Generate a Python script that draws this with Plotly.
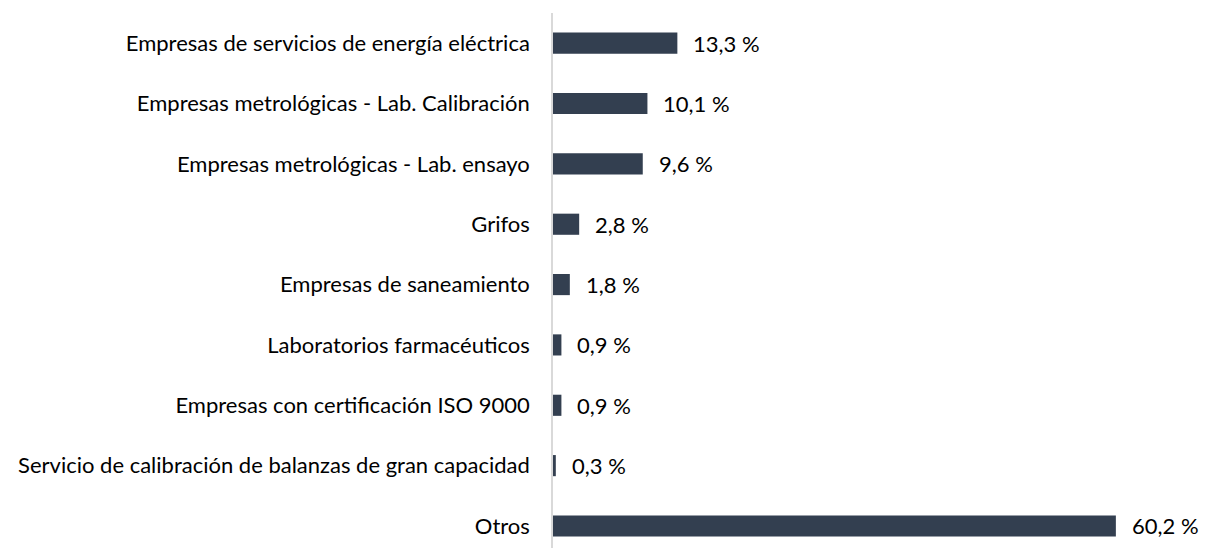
import plotly.graph_objects as go

categories = [
    "Empresas de servicios de energía eléctrica",
    "Empresas metrológicas - Lab. Calibración",
    "Empresas metrológicas - Lab. ensayo",
    "Grifos",
    "Empresas de saneamiento",
    "Laboratorios farmacéuticos",
    "Empresas con certificación ISO 9000",
    "Servicio de calibración de balanzas de gran capacidad",
    "Otros",
]
values = [13.3, 10.1, 9.6, 2.8, 1.8, 0.9, 0.9, 0.3, 60.2]
value_labels = ["13,3 %", "10,1 %", "9,6 %", "2,8 %", "1,8 %", "0,9 %", "0,9 %", "0,3 %", "60,2 %"]

FONT = "Lato"
FS = 22
W, H = 1205, 548
top, left, right = 13, 553, 30

fig = go.Figure()
fig.add_trace(go.Bar(
    x=values, y=categories, orientation="h",
    marker=dict(color="#333F50", line=dict(width=0)),
    width=0.35, hoverinfo="skip",
))
for c, v, t in zip(categories, values, value_labels):
    fig.add_annotation(x=v, y=c, text=t, showarrow=False, xanchor="left",
                       xshift=14, font=dict(family=FONT, size=FS, color="#000000"))

plot_h = H - top
span = plot_h / 60.35
fig.update_layout(
    width=W, height=H,
    margin=dict(l=left, r=right, t=top, b=0, autoexpand=False),
    plot_bgcolor="white", paper_bgcolor="white",
    showlegend=False,
    font=dict(family=FONT, size=FS, color="#000000"),
    xaxis=dict(range=[0, (W - left - right) / 9.35], visible=False, fixedrange=True),
    yaxis=dict(
        type="category", categoryorder="array", categoryarray=categories,
        range=[-0.5 + span, -0.5],
        showline=True, linecolor="#D9D9D9", linewidth=1.5,
        showgrid=False, zeroline=False, ticks="",
        ticklabelstandoff=17, automargin=False,
        tickfont=dict(family=FONT, size=FS, color="#000000"),
    ),
)
fig.write_html("out.html", config={"displayModeBar": False},
               post_script="document.body.style.margin='0';")
